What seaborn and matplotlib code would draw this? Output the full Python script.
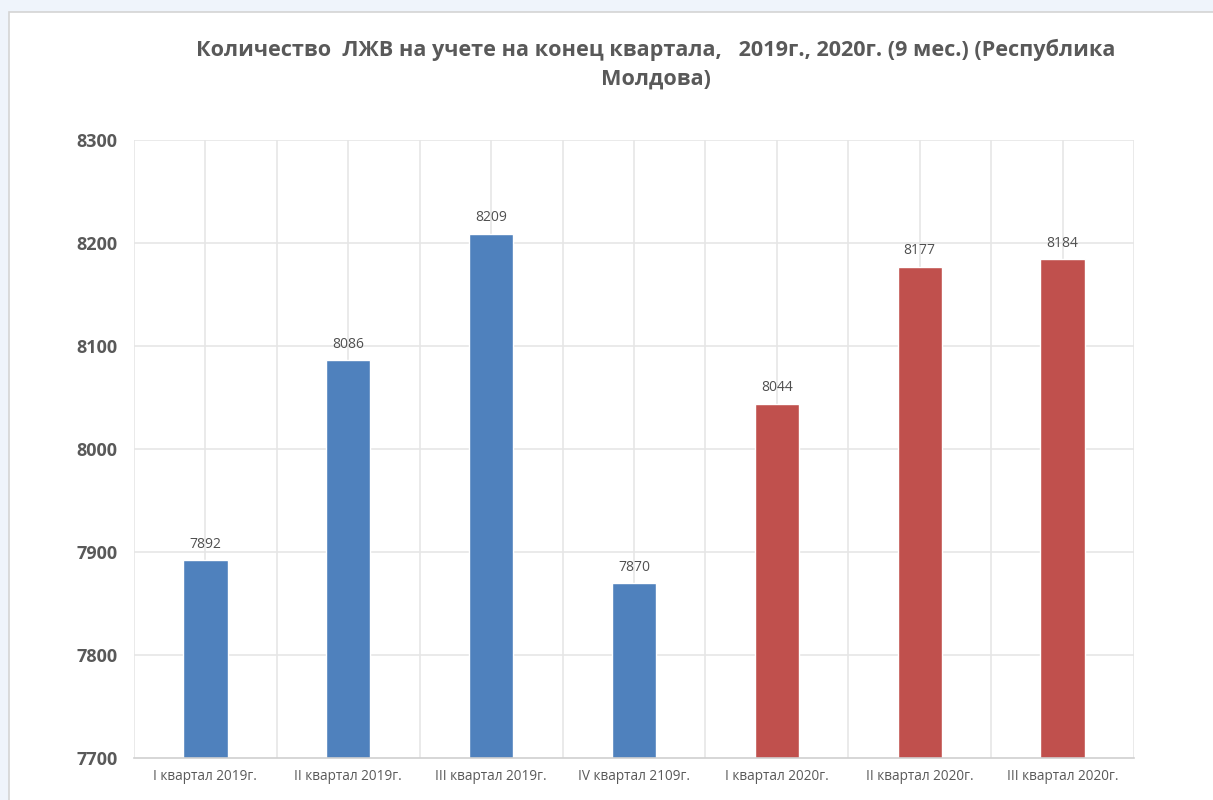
import matplotlib
matplotlib.use("Agg")
import matplotlib.pyplot as plt
import matplotlib.patches as mpatches
import seaborn as sns
import pandas as pd
import numpy as np

quarters = ["I квартал 2019г.", "II квартал 2019г.", "III квартал 2019г.", "IV квартал 2109г.",
            "I квартал 2020г.", "II квартал 2020г.", "III квартал 2020г."]
counts = [7892, 8086, 8209, 7870, 8044, 8177, 8184]
years = ["2019", "2019", "2019", "2019", "2020", "2020", "2020"]
y_ticks = [7700, 7800, 7900, 8000, 8100, 8200, 8300]
title = "Количество  ЛЖВ на учете на конец квартала,   2019г., 2020г. (9 мес.) (Республика\nМолдова)"

df = pd.DataFrame({"quarter": quarters, "count": counts, "year": years})

sns.set_theme(style="white")
plt.rcParams["font.family"] = ["Open Sans", "DejaVu Sans"]

fig = plt.figure(figsize=(12.13, 8.0), dpi=100)
fig.patch.set_facecolor("#EFF4FB")

# white chart card with thin grey border, kept behind the axes
card = mpatches.Rectangle((9 / 1213, -0.01), 1.0, 1 - 12 / 800 + 0.01, transform=fig.transFigure,
                          facecolor="white", edgecolor="#D4D4D4", linewidth=1.2, zorder=-5)
fig.add_artist(card)

ax = fig.add_axes([134 / 1213, 1 - 758 / 800, 1000 / 1213, (758 - 140) / 800])
ax.set_facecolor("white")
ax.set_zorder(1)

sns.barplot(data=df, x="quarter", y="count", hue="year", dodge=False, width=0.31,
            palette={"2019": "#4F81BD", "2020": "#C0504D"}, legend=False, ax=ax,
            zorder=3, saturation=1)

ax.set_ylim(7700, 8300)
ax.set_xlim(-0.5, len(quarters) - 0.5)
ax.set_yticks(y_ticks)
ax.set_yticklabels([str(t) for t in y_ticks], fontsize=13, fontweight="bold", color="#595959")
ax.tick_params(axis="y", length=0, pad=12)
ax.tick_params(axis="x", length=0, pad=8, labelsize=9.8, labelcolor="#595959")
ax.set_xlabel("")
ax.set_ylabel("")

# grid: horizontal every 100, vertical at every half category
for t in y_ticks[1:]:
    ax.axhline(t, color="#E6E6E6", linewidth=1.2, zorder=1)
for xv in np.arange(-0.5, len(quarters), 0.5):
    ax.axvline(xv, color="#E6E6E6", linewidth=1.2, zorder=1)

for side in ["top", "right", "left"]:
    ax.spines[side].set_visible(False)
ax.spines["bottom"].set_color("#D0D0D0")
ax.spines["bottom"].set_linewidth(1.2)
ax.spines["bottom"].set_zorder(4)

for i, v in enumerate(counts):
    ax.text(i, v + 8, str(v), ha="center", va="bottom", fontsize=10, color="#505050", zorder=5)

fig.text(656 / 1213, 1 - 64 / 800, title, ha="center", va="center", fontsize=15.6,
         fontweight="bold", color="#595959", linespacing=1.5)

fig.savefig("out.png", dpi=100, facecolor=fig.get_facecolor())
